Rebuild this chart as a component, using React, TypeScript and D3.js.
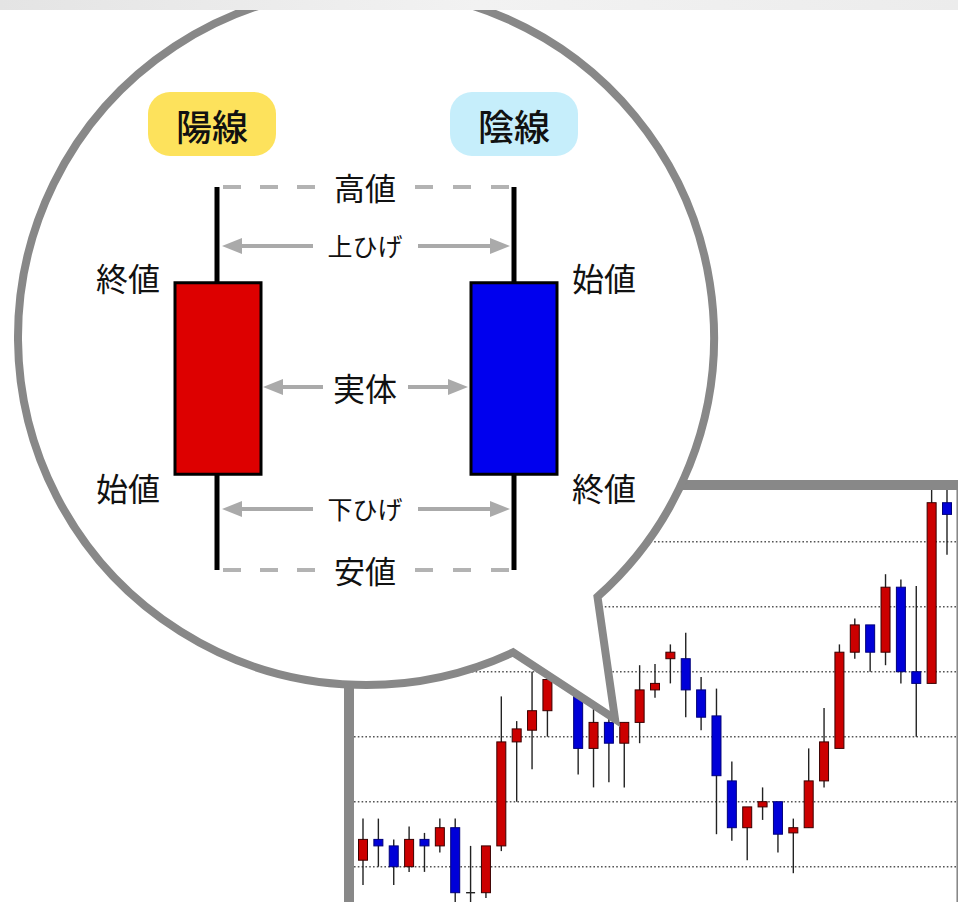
import React from "react";
import * as d3 from "d3";

const W = 958;
const H = 902;
const FONT = '"Noto Sans CJK JP", "Noto Sans CJK SC", sans-serif';

// price chart candles (price units)
const candleOpen = [
  105.5, 107.1, 106.6, 105.0, 107.1, 106.6, 108.0, 103.0, 103.0, 106.6,
  114.6, 115.5, 117.0, 119.5, 118.6, 114.1, 116.1, 114.5, 116.1, 118.6,
  121.0, 121.0, 118.6, 116.6, 111.6, 108.0, 109.6, 110.0, 107.6, 108.0,
  111.6, 114.1, 121.5, 123.6, 121.5, 126.5, 120.0, 119.1, 133.0,
];
const candleHigh = [
  108.7, 108.7, 107.1, 108.1, 107.6, 108.7, 108.7, 106.6, 106.6, 118.1,
  116.2, 120.0, 121.5, 122.0, 120.5, 117.2, 116.8, 116.1, 120.5, 120.6,
  122.1, 123.0, 119.6, 118.7, 113.1, 109.6, 111.1, 110.0, 108.7, 114.1,
  117.2, 122.1, 124.1, 123.6, 127.5, 127.1, 126.6, 135.0, 135.0,
];
const candleLow = [
  103.6, 105.0, 103.6, 104.6, 104.6, 106.1, 101.0, 101.0, 102.6, 106.2,
  110.0, 112.5, 115.0, 119.2, 112.1, 111.1, 111.5, 111.1, 114.5, 118.0,
  119.1, 116.5, 115.5, 107.5, 107.0, 105.5, 108.6, 106.1, 104.5, 108.0,
  111.1, 114.1, 121.0, 120.0, 120.5, 119.1, 115.0, 119.1, 129.0,
];
const candleClose = [
  107.1, 106.6, 105.0, 107.1, 106.6, 108.0, 103.0, 103.0, 106.6, 114.6,
  115.6, 117.0, 119.4, 121.0, 114.1, 116.1, 114.5, 116.1, 118.6, 119.1,
  121.5, 118.6, 116.5, 112.0, 108.0, 109.6, 110.0, 107.5, 108.0, 111.6,
  114.6, 121.5, 123.6, 121.5, 126.5, 120.0, 119.1, 133.0, 132.1,
];
const gridLevels = [130, 125, 120, 115, 110, 105, 100];

// the two example candles in the bubble
const exampleNames = ["陽線", "陰線"];
const exampleOpen = [25, 75];
const exampleHigh = [100, 100];
const exampleLow = [0, 0];
const exampleClose = [75, 25];
const pillColors = ["#fde25c", "#c6eefb"];

const chartX = d3.scalePoint<number>().domain(d3.range(candleOpen.length)).range([363, 947]);
const chartY = d3.scaleLinear().domain([100, 130]).range([931.7, 541.7]);

const exX = d3.scalePoint<string>().domain(exampleNames).range([217, 514]);
const exY = d3.scaleLinear().domain([0, 100]).range([570, 187]);

const Arrow = ({ x1, x2, y }) => {
  const dir = x2 > x1 ? 1 : -1;
  const head = 20;
  return (
    <g>
      <line x1={x1} x2={x2 - dir * head} y1={y} y2={y} stroke="#aaaaaa" strokeWidth={4} />
      <path
        d={`M${x2},${y} L${x2 - dir * head},${y - 8} L${x2 - dir * head},${y + 8} Z`}
        fill="#aaaaaa"
      />
    </g>
  );
};

const Label = ({ x, y, size, children, weight = 400 }) => (
  <text
    x={x}
    y={y}
    textAnchor="middle"
    dominantBaseline="central"
    fontFamily={FONT}
    fontSize={size}
    fontWeight={weight}
    fill="#111"
  >
    {children}
  </text>
);

export default function App() {
  const cx = 366;
  const cy = 337;
  const r = 348;
  const aA = (65 * Math.PI) / 180;
  const aB = (48.3 * Math.PI) / 180;
  const A = [cx + r * Math.cos(aA), cy + r * Math.sin(aA)];
  const B = [cx + r * Math.cos(aB), cy + r * Math.sin(aB)];
  const tip = [615, 719];
  const bubble = `M${A[0]},${A[1]} L${tip[0]},${tip[1]} L${B[0]},${B[1]} A${r},${r} 0 1 0 ${A[0]},${A[1]} Z`;

  const bw = 9;
  const exW = 86;
  const midX = 365;
  const xl = exX("陽線")!;
  const xr = exX("陰線")!;

  return (
    <svg
      width={W}
      height={H}
      style={{ position: "absolute", left: 0, top: 0, display: "block", background: "#fff" }}
    >
      <defs>
        <linearGradient id="strip" x1="0" x2="1" y1="0" y2="0">
          <stop offset="0" stopColor="#e4e4e4" />
          <stop offset="0.5" stopColor="#f2f2f2" />
          <stop offset="1" stopColor="#ececec" />
        </linearGradient>
        <clipPath id="plot">
          <rect x={354} y={490} width={W} height={H} />
        </clipPath>
      </defs>

      {/* price chart */}
      <rect x={349} y={485} width={612} height={500} fill="#fff" />
      <g clipPath="url(#plot)">
        {gridLevels.map((g) => (
          <line
            key={g}
            x1={354}
            x2={956}
            y1={chartY(g)}
            y2={chartY(g)}
            stroke="#555"
            strokeWidth={1.4}
            strokeDasharray="1.6 2.2"
          />
        ))}
        {candleOpen.map((o, i) => {
          const c = candleClose[i];
          const x = chartX(i)!;
          const up = c > o;
          const flat = c === o;
          const top = chartY(Math.max(o, c));
          const bot = chartY(Math.min(o, c));
          return (
            <g key={i}>
              <line x1={x} x2={x} y1={chartY(candleHigh[i])} y2={chartY(candleLow[i])} stroke="#222" strokeWidth={1.4} />
              {flat ? (
                <line x1={x - bw / 2} x2={x + bw / 2} y1={top} y2={top} stroke="#222" strokeWidth={1.4} />
              ) : (
                <rect
                  x={x - bw / 2}
                  y={top}
                  width={bw}
                  height={bot - top}
                  fill={up ? "#cc0000" : "#0000d8"}
                  stroke={up ? "#3a0000" : "#00007a"}
                  strokeWidth={1}
                />
              )}
            </g>
          );
        })}
      </g>
      <rect x={349} y={485} width={612} height={500} fill="none" stroke="#888" strokeWidth={10} />
      <line x1={956.5} x2={956.5} y1={490} y2={H} stroke="#bbb" strokeWidth={1} />

      {/* speech bubble */}
      <path d={bubble} fill="#fff" stroke="#888" strokeWidth={8} strokeLinejoin="miter" />

      {/* pills */}
      {exampleNames.map((n, i) => {
        const px = i === 0 ? 212 : 514;
        return (
          <g key={n}>
            <rect x={px - 64} y={92} width={128} height={64} rx={22} fill={pillColors[i]} />
            <Label x={px} y={125} size={36} weight={500}>
              {n}
            </Label>
          </g>
        );
      })}

      {/* dashed high / low guides */}
      {[exampleHigh[0], exampleLow[0]].map((v, i) => (
        <g key={i}>
          <line x1={xl + 6} x2={318} y1={exY(v)} y2={exY(v)} stroke="#b3b3b3" strokeWidth={4} strokeDasharray="18 19" />
          <line x1={415} x2={xr - 4} y1={exY(v)} y2={exY(v)} stroke="#b3b3b3" strokeWidth={4} strokeDasharray="18 20" />
        </g>
      ))}

      {/* example candles */}
      {exampleNames.map((n, i) => {
        const x = exX(n)!;
        const o = exampleOpen[i];
        const c = exampleClose[i];
        const up = c > o;
        return (
          <g key={n}>
            <line x1={x} x2={x} y1={exY(exampleHigh[i])} y2={exY(exampleLow[i])} stroke="#000" strokeWidth={5} />
            <rect
              x={x - exW / 2 + (i === 0 ? 1 : 0)}
              y={exY(Math.max(o, c))}
              width={exW}
              height={exY(Math.min(o, c)) - exY(Math.max(o, c))}
              fill={up ? "#dd0000" : "#0000ee"}
              stroke="#000"
              strokeWidth={3}
            />
          </g>
        );
      })}

      {/* arrows */}
      <Arrow x1={313} x2={xl + 5} y={246} />
      <Arrow x1={418} x2={xr - 4} y={246} />
      <Arrow x1={323} x2={xl + exW / 2 + 3} y={387} />
      <Arrow x1={408} x2={xr - exW / 2 - 3} y={387} />
      <Arrow x1={313} x2={xl + 5} y={509} />
      <Arrow x1={418} x2={xr - 4} y={509} />

      {/* labels */}
      <Label x={midX} y={186} size={31}>高値</Label>
      <Label x={midX} y={245} size={25}>上ひげ</Label>
      <Label x={midX} y={387} size={32}>実体</Label>
      <Label x={midX} y={508} size={25}>下ひげ</Label>
      <Label x={midX} y={569} size={31}>安値</Label>
      <Label x={128} y={277} size={32}>終値</Label>
      <Label x={128} y={487} size={32}>始値</Label>
      <Label x={604} y={277} size={32}>始値</Label>
      <Label x={604} y={487} size={32}>終値</Label>

      {/* top strip */}
      <rect x={0} y={0} width={W} height={10} fill="url(#strip)" />
    </svg>
  );
}
